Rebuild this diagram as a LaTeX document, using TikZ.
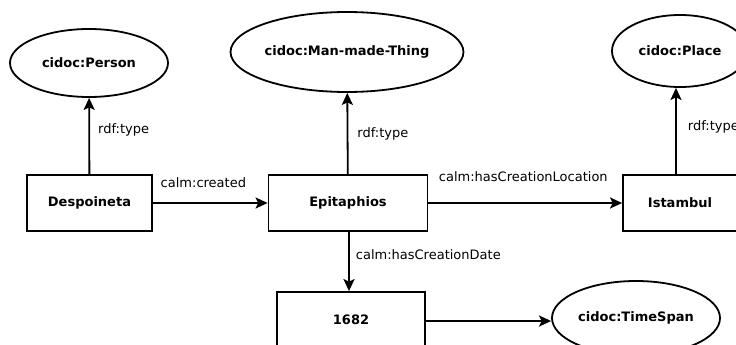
\documentclass[tikz,border=0pt]{standalone}
\usepackage{fontspec}
\setmainfont{DejaVu Sans}
\usetikzlibrary{arrows.meta,shapes.geometric}
\begin{document}
\begin{tikzpicture}[x=1pt, y=-1pt,
    every node/.style={font=\fontsize{13}{15}\selectfont, inner sep=0pt},
    resource/.style={rectangle, draw, line width=1.8pt, font=\fontsize{13}{15}\selectfont\bfseries},
    class/.style={ellipse, draw, line width=1.8pt, font=\fontsize{13}{15}\selectfont\bfseries},
    rel/.style={line width=1.8pt, -{Stealth[length=12pt, width=11pt, inset=2.5pt]}},
    prop/.style={anchor=west}]
    \useasboundingbox (0,0) rectangle (736,345);
    \clip (0,0) rectangle (736,345);

    % Nodes
    \node (person) [class, minimum width=158pt, minimum height=68pt] at (89, 63) {cidoc:Person};
    \node (thing) [class, minimum width=180pt, minimum height=80pt] at (347, 52) {cidoc:Man-made-Thing};
    \node (place) [class, minimum width=136pt, minimum height=72pt] at (680, 51) {cidoc:Place};
    \node (despoineta) [resource, minimum width=125pt, minimum height=56pt] at (89.5, 203) {Despoineta};
    \node (epitaphios) [resource, minimum width=159pt, minimum height=56pt] at (348, 203) {Epitaphios};
    \node (istambul) [resource, minimum width=114pt, minimum height=56pt] at (680, 203) {Istambul};
    \node (year) [resource, minimum width=148pt, minimum height=56pt] at (351, 320) {1682};
    \node (timespan) [class, minimum width=168pt, minimum height=74pt] at (636, 318) {cidoc:TimeSpan};

    % Edges
    \draw[rel] (despoineta) -- (person) node[prop, pos=0.58, xshift=8pt] {rdf:type};
    \draw[rel] (epitaphios) -- (thing) node[prop, pos=0.5, xshift=9pt] {rdf:type};
    \draw[rel] ([xshift=-4pt]istambul.north) -- ([xshift=-4pt]istambul.north |- place.south)
        node[prop, pos=0.55, xshift=11pt] {rdf:type};
    \draw[rel] (despoineta) -- (epitaphios) node[pos=0.44, above=14pt] {calm:created};
    \draw[rel] (epitaphios) -- (istambul) node[pos=0.49, above=20pt] {calm:hasCreationLocation};
    \draw[rel] ([xshift=1pt]epitaphios.south) -- ([xshift=1pt]epitaphios.south |- year.north)
        node[prop, pos=0.38, xshift=6pt] {calm:hasCreationDate};
    \draw[rel] ([yshift=-1pt]year.east) -- ([yshift=-1pt]year.east -| timespan.west);
\end{tikzpicture}
\end{document}
